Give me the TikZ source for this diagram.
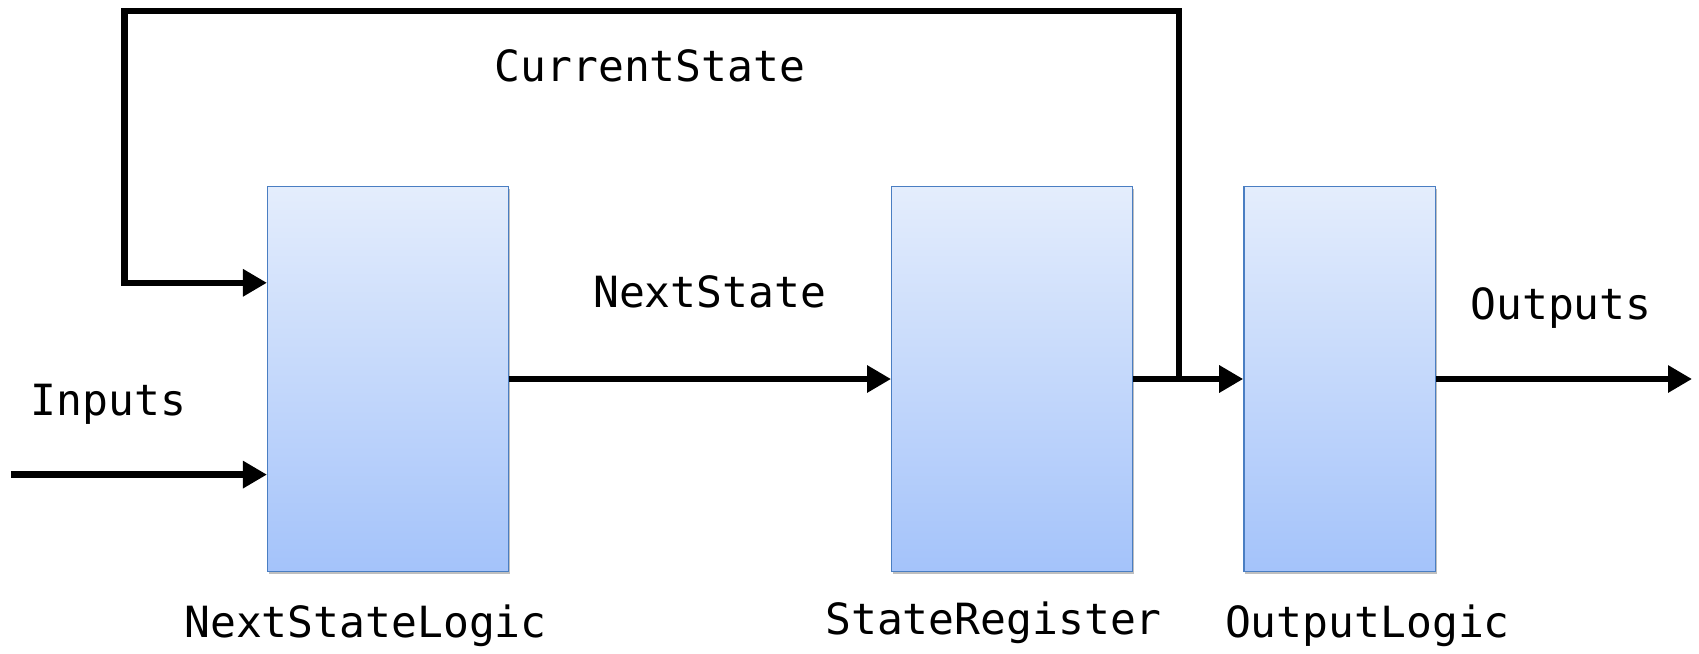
\documentclass[tikz,border=0pt]{standalone}
\usepackage{fontspec}
\setmonofont{DejaVu Sans Mono}
\usepackage{tikz}
\usetikzlibrary{positioning,arrows.meta,shadows}
\definecolor{boxline}{HTML}{4A7EC2}
\definecolor{boxtop}{HTML}{E4EDFC}
\definecolor{boxbot}{HTML}{A4C3FA}

\begin{document}
\begin{tikzpicture}[x=1pt,y=-1pt,
		blok/.style={draw=boxline, line width=1.3pt, top color=boxtop, bottom color=boxbot,
			minimum height=384.6pt, inner sep=0pt,
			drop shadow={shadow xshift=1.5pt, shadow yshift=-2.5pt, opacity=0.25, fill=black}},
		wire/.style={line width=6.5pt, line join=miter},
		fleche/.style={wire, -{Triangle[length=24pt,width=26pt]}},
		etiq/.style={font=\ttfamily\fontsize{43pt}{50pt}\selectfont, inner sep=0pt}]
		\useasboundingbox (0,0) rectangle (1699,653);
		% blocs
		\node[blok, minimum width=240.6pt] (nsl) at (387.9,379) {};
		\node[blok, minimum width=240.6pt] (sr) at (1012,379) {};
		\node[blok, minimum width=191.7pt] (ol) at (1339.7,379) {};
		% points libres
		\coordinate (in) at (10.8,474.6);
		\coordinate (out) at (1692,379);
		\coordinate (tap) at (1178.8,379);
		\coordinate (top) at (124.6,10.8);
		\coordinate (fb) at (124.6,282.8);
		% fils
		\draw[fleche] (in) -- (nsl.west |- in);
		\draw[fleche] (nsl.east) -- (sr.west);
		\draw[fleche] (sr.east) -- (ol.west);
		\draw[fleche] (ol.east) -- (out);
		\draw[fleche] (tap) -- (tap |- top) -- (top) -- (fb) -- (nsl.west |- fb);
		% texte
		\node[etiq] (lcur) at (650,66) {CurrentState};
		\node[etiq] (lnext) at (709.7,292) {NextState};
		\node[etiq] (lin) at (108.4,404) {Inputs};
		\node[etiq] (lout) at (1561,308) {Outputs};
		\node[etiq] (lnsl) at (365.5,626) {NextStateLogic};
		\node[etiq] (lsr) at (993.6,623) {StateRegister};
		\node[etiq] (lol) at (1367.4,626) {OutputLogic};
	\end{tikzpicture}
\end{document}
